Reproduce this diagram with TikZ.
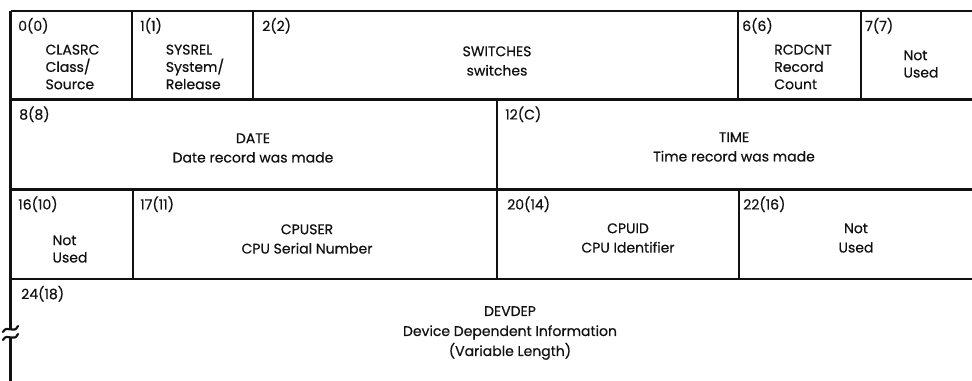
\documentclass[tikz,border=0pt]{standalone}
\usepackage{fontspec}
\setmainfont{Poppins}[FakeBold=0.5]
\usepackage{xcolor,tikz}
\usetikzlibrary{positioning,calc}
\definecolor{recInk}{HTML}{111111}

\tikzset{
  rowRule/.style={recInk, line width=2.1pt},
  fieldRule/.style={recInk, line width=1.7pt},
  breakWave/.style={recInk, line width=1.6pt, line cap=round},
  offLabel/.style={anchor=base west, inner sep=0pt, color=recInk,
    font=\fontsize{10.5}{13}\selectfont},
  fieldText/.style={inner sep=0pt, align=center, color=recInk,
    font=\fontsize{10.5}{14.5}\selectfont},
  tightText/.style={fieldText, align=left,
    font=\fontsize{10.5}{13}\selectfont}
}

\begin{document}
\begin{tikzpicture}[x=0.75pt,y=-0.75pt]

% --- PARAMETERS ---
\def\xL{10.5}     % left edge
\def\xR{972}      % rules run off the right side
\def\yA{11}       % top of first row
\def\yB{99.5}
\def\yC{189.5}
\def\yD{279}
\def\yEnd{381}    % open bottom

\useasboundingbox (0,0) rectangle (972,381);

% --- ROW RULES ---
\foreach \yy in {\yA,\yB,\yC,\yD}
  \draw[rowRule] (\xL,\yy) -- (\xR,\yy);

% --- LEFT EDGE WITH BREAK ---
\coordinate (edgeTop) at (\xL,\yA);
\coordinate (brkUp) at (\xL,329.5);
\coordinate (brkLo) at (\xL,337.5);
\coordinate (edgeBot) at (\xL,\yEnd);
\draw[rowRule] (edgeTop) -- (brkUp);
\draw[rowRule] (brkLo) -- (edgeBot);
\draw[breakWave] (3,332) .. controls (7,324) and (14,335) .. (18,326);
\draw[breakWave] (3,340) .. controls (7,332) and (14,343) .. (18,334);

% --- FIELD DIVIDERS ---
\foreach \xx/\ya/\yb in {132/\yA/\yB, 253/\yA/\yB, 738/\yA/\yB, 861/\yA/\yB,
                         497/\yB/\yC,
                         133/\yC/\yD, 497/\yC/\yD, 739/\yC/\yD}
  \draw[fieldRule] (\xx,\ya) -- (\xx,\yb);

% --- OFFSET LABELS ---
\foreach \name/\xx/\yy/\txt in {off0/18/\yA/0(0), off1/140/\yA/1(1),
    off2/262/\yA/2(2), off6/742/\yA/6(6), off7/865/\yA/7(7),
    off8/19/\yB/8(8), offC/505/\yB/12(C),
    off10/18/\yC/16(10), off11/140/\yC/17(11), off14/507/\yC/20(14),
    off16/743/\yC/22(16),
    off18/21/\yD/24(18)}
  \node[offLabel] (\name) at (\xx,\yy+20) {\txt};

% --- FIELD TEXTS ---
\node[tightText] (clasrc) at (72.5,67) {CLASRC\\Class/\\Source};
\node[tightText] (sysrel) at (195,67) {SYSREL\\System/\\Release};
\node[fieldText] (switches) at (497,61) {SWITCHES\\switches};
\node[tightText] (rcdcnt) at (803,67) {RCDCNT\\Record\\Count};
\node[tightText] (unusedA) at (921,64) {Not\\Used};

\node[fieldText] (date) at (253,148) {DATE\\Date record was made};
\node[fieldText] (time) at (734,147) {TIME\\Time record was made};

\node[tightText] (unusedB) at (70,249) {Not\\Used};
\node[fieldText] (cpuser) at (307,239) {CPUSER\\CPU Serial Number};
\node[fieldText] (cpuid) at (628,238) {CPUID\\CPU Identifier};
\node[fieldText] (unusedC) at (856,238) {Not\\Used};

\node[fieldText, font=\fontsize{10.5}{15}\selectfont] (devdep) at (510,333)
  {DEVDEP\\Device Dependent Information\\(Variable Length)};

\end{tikzpicture}
\end{document}
